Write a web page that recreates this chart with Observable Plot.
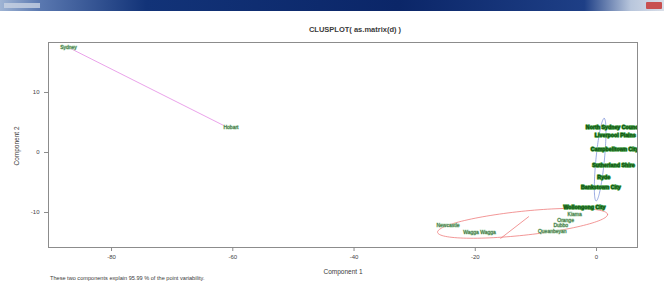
<!DOCTYPE html>
<html><head><meta charset="utf-8">
<script src="https://cdn.jsdelivr.net/npm/d3@7"></script>
<script src="https://cdn.jsdelivr.net/npm/@observablehq/plot@0.6"></script>
<style>
body{margin:0;background:#fff;width:664px;height:282px;overflow:hidden;position:relative;font-family:"Liberation Sans",Arial,sans-serif;}
#chart{position:absolute;left:0;top:0;}
#bar{position:absolute;left:0;top:0;width:664px;height:11px;background:linear-gradient(90deg,#9fb4d4 0,#5a78b0 6%,#123378 22%,#0b2668 60%,#1e3f86 88%,#b8c6dc 95%,#d9dfe9 100%);}
#btn{position:absolute;right:2px;top:2px;width:16px;height:7px;background:#c85050;border-radius:1px;}
#icon{position:absolute;left:4px;top:3px;width:36px;height:5px;background:#c8d2e2;opacity:.8;}
.t{position:absolute;white-space:nowrap;color:#3a3a3a;}
</style></head><body>
<div id="chart"></div>
<div id="bar"><div id="icon"></div><div id="btn"></div></div>
<div class="t" style="left:0;width:710px;text-align:center;top:25px;font-size:7.5px;font-weight:bold;">CLUSPLOT( as.matrix(d) )</div>
<div class="t" style="left:0;width:686px;text-align:center;top:268px;font-size:6.5px;">Component 1</div>
<div class="t" style="left:50px;top:275px;font-size:5.6px;">These two components explain 95.99 % of the point variability.</div>
<div class="t" style="left:16px;top:146px;font-size:6.5px;transform:translate(-50%,-50%) rotate(-90deg);">Component 2</div>
<script>
// ---- data ----
const xTicks = [-80, -60, -40, -20, 0];
const yTicks = [-10, 0, 10];
const pointNames = ["Sydney","Hobart",
  "North Sydney Council","Liverpool Plains","Campbelltown City","Sutherland Shire","Ryde","Bankstown City",
  "Wollongong City","Kiama","Orange","Dubbo","Queanbeyan","Newcastle","Wagga Wagga"];
const pointX = [-87.1,-60.3, 2.8,3.1,3.0,2.8,1.2,0.7, -2.0,-3.6,-5.1,-5.9,-7.3, -24.5,-19.3];
const pointY = [17.5,4.2, 4.2,2.8,0.5,-2.2,-4.2,-5.8, -9.2,-10.3,-11.3,-12.2,-13.1, -12.2,-13.3];
// cluster ellipses: centre, semi-axes, angle (deg)
const ellColor = ["#ec6a6a","#6f86d6"];
const ellCX = [-12.2, 0.6];
const ellCY = [-11.8, -1.2];
const ellA = [14.1, 6.9];
const ellB = [2.0, 0.7];
const ellAngle = [6.1, 84.5];
// two-point cluster drawn as a segment (Sydney - Hobart)
const segX = [-87.1, -61.5];
const segY = [17.5, 4.5];
// distance line between clusters
const distX = [-15.8, -11.2];
const distY = [-14.3, -10.7];

const xmin = -90.4, xmax = 6.76, ymin = -15.83, ymax = 18.33;

const pts = pointNames.map((n,i)=>({name:n, x:pointX[i], y:pointY[i], big: i >= 2 && i <= 8}));
const ellipses = [];
ellCX.forEach((cx,k)=>{
  const t = ellAngle[k]*Math.PI/180;
  for(let j=0;j<=120;j++){
    const u = j/120*2*Math.PI;
    const ex = ellA[k]*Math.cos(u), ey = ellB[k]*Math.sin(u);
    ellipses.push({k, x: cx + ex*Math.cos(t) - ey*Math.sin(t), y: ellCY[k] + ex*Math.sin(t) + ey*Math.cos(t), c: ellColor[k]});
  }
});
const seg = segX.map((x,i)=>({x, y:segY[i]}));
const dist = distX.map((x,i)=>({x, y:distY[i]}));

const chart = Plot.plot({
  width: 664, height: 282,
  marginLeft: 48, marginRight: 27, marginTop: 42, marginBottom: 35,
  style: {fontFamily: "Liberation Sans, Arial, sans-serif", fontSize: "6px", color: "#444", background: "transparent"},
  x: {domain: [xmin, xmax]},
  y: {domain: [ymin, ymax]},
  marks: [
    Plot.frame({stroke: "#8c8c8c"}),
    Plot.axisX({ticks: xTicks, tickSize: 4, tickPadding: 3, stroke: "#8c8c8c", fill: "#444", fontSize: 6, label: null, tickFormat: d => String(d)}),
    Plot.axisY({ticks: yTicks, tickSize: 4, tickPadding: 5, stroke: "#8c8c8c", fill: "#444", fontSize: 6, label: null, tickFormat: d => String(d)}),
    Plot.line(seg, {x: "x", y: "y", stroke: "#e48ae4", strokeWidth: 0.8}),
    Plot.line(ellipses, {x: "x", y: "y", z: "k", stroke: "c", strokeWidth: 0.7, clip: true}),
    Plot.line(dist, {x: "x", y: "y", stroke: "#ec6a6a", strokeWidth: 0.7}),
    Plot.text(pts.filter(d => !d.big), {x: "x", y: "y", text: "name", fill: "#2f5e34", stroke: "#a8d4a8", strokeWidth: 0.8, paintOrder: "stroke", fontSize: 5, clip: true}),
    Plot.text(pts.filter(d => d.big), {x: "x", y: "y", text: "name", fill: "#0b4a10", stroke: "#3f9a3f", strokeWidth: 1.4, paintOrder: "stroke", fontSize: 5.3, fontWeight: "bold", clip: true})
  ]
});
document.getElementById("chart").appendChild(chart);
</script>
</body></html>
